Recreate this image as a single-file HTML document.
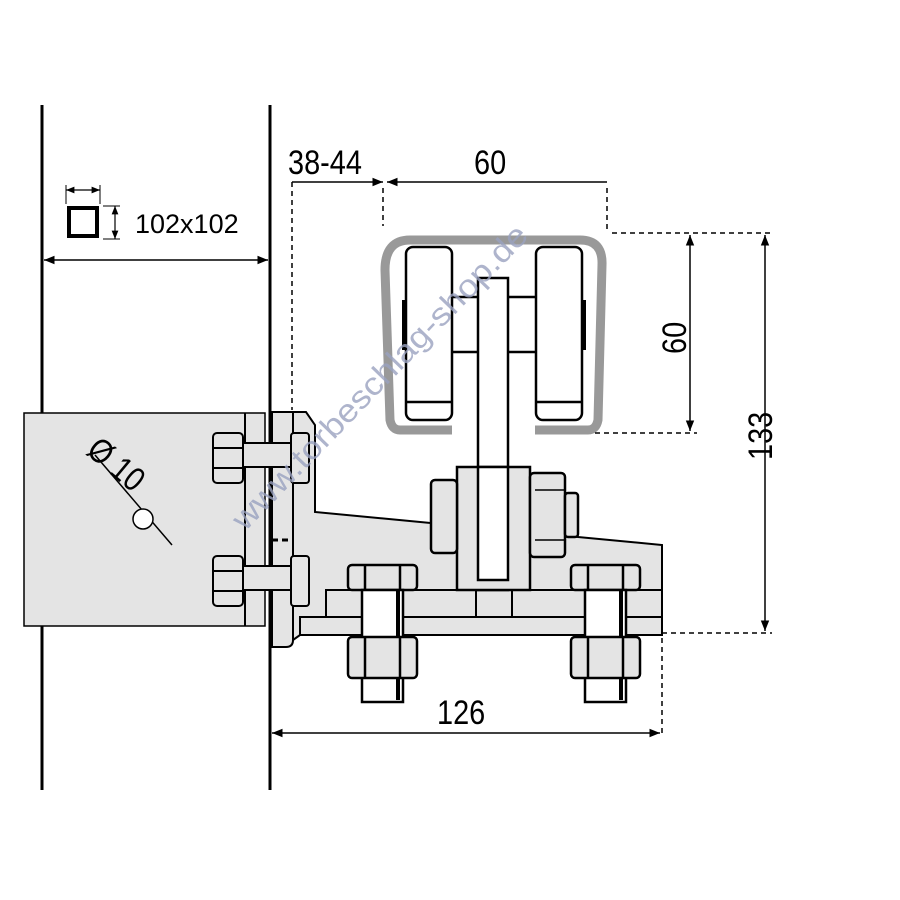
<!DOCTYPE html>
<html><head><style>html,body{margin:0;padding:0;background:#fff}svg{display:block}text{font-family:"Liberation Sans",sans-serif}</style></head>
<body>
<svg width="900" height="900" viewBox="0 0 900 900" xmlns="http://www.w3.org/2000/svg">
<defs>
<marker id="a" viewBox="0 0 10 10" refX="10" refY="5" markerWidth="7" markerHeight="7" orient="auto-start-reverse"><path d="M0,1 L10,5 L0,9 z" fill="#000"/></marker>
</defs>
<g stroke="#000" fill="none">
<line x1="42" y1="105" x2="42" y2="790" stroke-width="3"/>
<line x1="270" y1="105" x2="270" y2="790" stroke-width="3"/>
<line x1="44" y1="260" x2="268" y2="260" stroke-width="1.5" marker-start="url(#a)" marker-end="url(#a)"/>
<rect x="69" y="208" width="28" height="28" stroke-width="4"/>
<line x1="66" y1="190" x2="100" y2="190" stroke-width="1.2" marker-start="url(#a)" marker-end="url(#a)"/>
<line x1="66" y1="185" x2="66" y2="204" stroke-width="1"/><line x1="100" y1="185" x2="100" y2="204" stroke-width="1"/>
<line x1="115" y1="206" x2="115" y2="239" stroke-width="1.2" marker-start="url(#a)" marker-end="url(#a)"/>
<line x1="103" y1="206" x2="120" y2="206" stroke-width="1"/><line x1="103" y1="239" x2="120" y2="239" stroke-width="1"/>
</g>
<text x="135" y="233" font-size="27">102x102</text>
<g stroke="#000" stroke-width="2" fill="#e4e4e4">
<rect x="24" y="413" width="241" height="213" stroke-width="1.5"/>
<line x1="245" y1="413" x2="245" y2="626"/>
<path d="M272,412 H293 V640 Q293,647 286,647 H272 Z"/>
<path d="M293,412 H306 L315,425 V512 L662,545 V635 H300 L293,640 Z"/>
<rect x="300" y="617" width="362" height="18"/>
<rect x="326" y="590" width="336" height="27"/>
<line x1="476" y1="590" x2="476" y2="617"/><line x1="512" y1="590" x2="512" y2="617"/>
</g>
<line x1="272" y1="540" x2="293" y2="540" stroke="#000" stroke-width="3" stroke-dasharray="6,4"/>
<g stroke="#000" stroke-width="2" fill="#e4e4e4">
<rect x="213" y="433" width="30" height="50" rx="4"/><line x1="213" y1="448" x2="243" y2="448"/><line x1="213" y1="468" x2="243" y2="468"/>
<rect x="243" y="443" width="50" height="24"/>
<rect x="291" y="433" width="18" height="50" rx="3"/>
<rect x="213" y="556" width="30" height="50" rx="4"/><line x1="213" y1="571" x2="243" y2="571"/><line x1="213" y1="591" x2="243" y2="591"/>
<rect x="243" y="566" width="50" height="24"/>
<rect x="291" y="556" width="18" height="50" rx="3"/>
</g>
<g stroke="#000" stroke-width="2.5" fill="#fff">
<rect x="478" y="278" width="30" height="312"/>
<rect x="457" y="467" width="73" height="123" fill="#e4e4e4"/>
<rect x="478" y="467" width="30" height="113" fill="#fff"/>
<rect x="431" y="480" width="26" height="73" rx="4" fill="#e4e4e4"/>
<rect x="530" y="473" width="35" height="84" rx="4" fill="#e4e4e4"/>
<rect x="565" y="493" width="13" height="44" rx="3" fill="#e4e4e4"/>
<line x1="535" y1="490" x2="565" y2="490" stroke-width="1.5"/><line x1="535" y1="540" x2="565" y2="540" stroke-width="1.5"/>
</g>
<path d="M452,430 H400 Q392,430 390,420 L385,270 Q385,240 410,240 H580 Q603,240 602,265 L598,420 Q596,430 588,430 H535" fill="none" stroke="#999" stroke-width="9"/>
<g stroke="#000" stroke-width="2.5" fill="#fff">
<line x1="452" y1="297" x2="478" y2="297"/><line x1="452" y1="352" x2="478" y2="352"/>
<line x1="508" y1="297" x2="536" y2="297"/><line x1="508" y1="352" x2="536" y2="352"/>
<rect x="406" y="247" width="46" height="173" rx="7"/><line x1="406" y1="402" x2="452" y2="402"/>
<rect x="536" y="247" width="46" height="173" rx="7"/><line x1="536" y1="402" x2="582" y2="402"/>
<line x1="404" y1="300" x2="404" y2="350" stroke-width="4"/><line x1="584" y1="300" x2="584" y2="350" stroke-width="4"/>
</g>
<g stroke="#000" stroke-width="2.5" fill="#e4e4e4">
<rect x="348" y="565" width="69" height="25" rx="4"/><line x1="365" y1="565" x2="365" y2="590"/><line x1="400" y1="565" x2="400" y2="590"/>
<rect x="362" y="590" width="41" height="112" fill="#fff"/>
<line x1="398" y1="590" x2="398" y2="700" stroke-width="4"/>
<rect x="348" y="637" width="69" height="41" rx="4"/><line x1="365" y1="637" x2="365" y2="678"/><line x1="400" y1="637" x2="400" y2="678"/>
<rect x="571" y="565" width="69" height="25" rx="4"/><line x1="588" y1="565" x2="588" y2="590"/><line x1="623" y1="565" x2="623" y2="590"/>
<rect x="585" y="590" width="41" height="112" fill="#fff"/>
<line x1="621" y1="590" x2="621" y2="700" stroke-width="4"/>
<rect x="571" y="637" width="69" height="41" rx="4"/><line x1="588" y1="637" x2="588" y2="678"/><line x1="623" y1="637" x2="623" y2="678"/>
</g>
<g stroke="#000" stroke-width="1.5" fill="none">
<g stroke-dasharray="5,4">
<line x1="292" y1="182" x2="292" y2="410"/>
<line x1="383" y1="188" x2="383" y2="226"/>
<line x1="607" y1="188" x2="607" y2="230"/>
<line x1="612" y1="233" x2="772" y2="233"/>
<line x1="595" y1="433" x2="697" y2="433"/>
<line x1="662" y1="633" x2="772" y2="633"/>
<line x1="662" y1="638" x2="662" y2="735"/>
</g>
<line x1="292" y1="182" x2="383" y2="182" marker-end="url(#a)"/>
<line x1="387" y1="182" x2="607" y2="182" marker-start="url(#a)"/>
<line x1="690" y1="235" x2="690" y2="431" marker-start="url(#a)" marker-end="url(#a)"/>
<line x1="765" y1="235" x2="765" y2="631" marker-start="url(#a)" marker-end="url(#a)"/>
<line x1="272" y1="733" x2="660" y2="733" marker-start="url(#a)" marker-end="url(#a)"/>
<line x1="95" y1="455" x2="172" y2="545"/>
<circle cx="143" cy="519" r="10" fill="#fff"/>
</g>
<g font-size="34">
<text transform="translate(288 174) scale(0.85 1)">38-44</text>
<text transform="translate(474 174) scale(0.85 1)">60</text>
<text transform="translate(437 724) scale(0.85 1)">126</text>
<text transform="translate(686 354) rotate(-90) scale(0.85 1)">60</text>
<text transform="translate(772 460) rotate(-90) scale(0.85 1)">133</text>
<text transform="translate(85 453) rotate(40) scale(0.85 1)">Ø 10</text>
</g>
<text transform="translate(245 532) rotate(-46)" font-size="32" textLength="410" lengthAdjust="spacingAndGlyphs" fill="#9aa2c0" opacity="0.8">www.torbeschlag-shop.de</text>
</svg>
</body></html>
